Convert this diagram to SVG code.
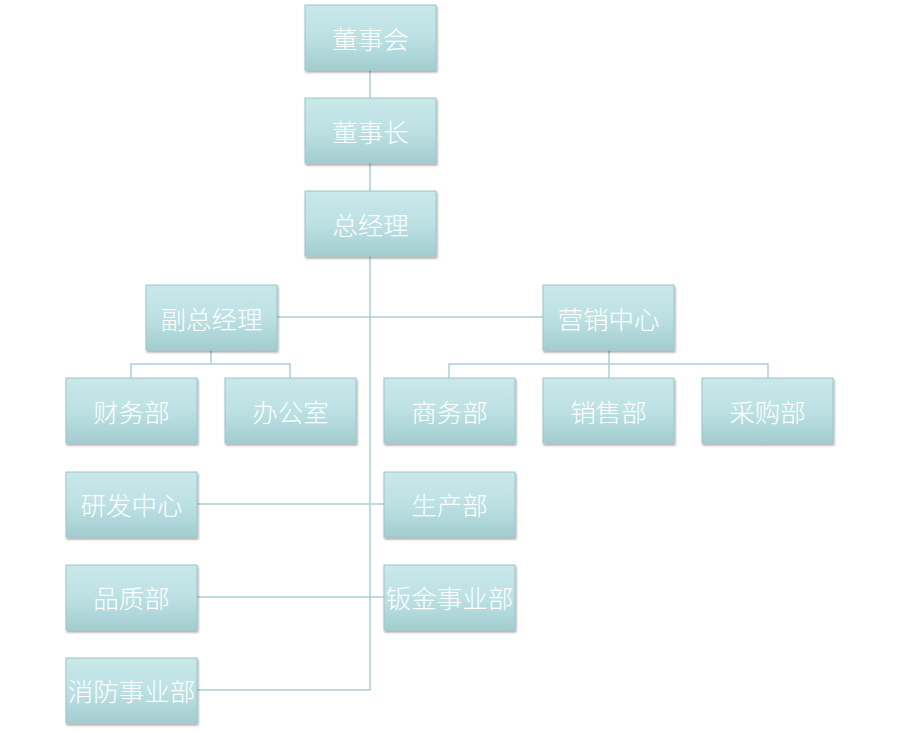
<svg xmlns="http://www.w3.org/2000/svg" width="900" height="733" viewBox="0 0 900 733">
<defs>
<linearGradient id="g" x1="0" y1="0" x2="0" y2="1">
<stop offset="0" stop-color="#c9e8ea"/>
<stop offset="0.5" stop-color="#bde1e3"/>
<stop offset="1" stop-color="#a3cdd1"/>
</linearGradient>
<filter id="sh" x="-10%" y="-10%" width="125%" height="130%">
<feGaussianBlur in="SourceAlpha" stdDeviation="1.2"/>
<feOffset dx="1" dy="2" result="b"/>
<feComponentTransfer><feFuncA type="linear" slope="0.35"/></feComponentTransfer>
<feMerge><feMergeNode/><feMergeNode in="SourceGraphic"/></feMerge>
</filter>
</defs>
<style>
.box{fill:url(#g);stroke:#9cc6ca;stroke-width:1;filter:url(#sh)}
.t{font-family:"Noto Sans CJK SC","Noto Sans CJK JP",sans-serif;font-size:25.5px;fill:#ffffff;text-anchor:middle;dominant-baseline:central;font-weight:300}
.c{fill:none;stroke:#a9d1d5;stroke-width:1.5}
</style>
<rect width="900" height="733" fill="#ffffff"/>
<g id="connectors">
<path class="c" d="M370 70V98M370 163V191M370 256V690H197"/>
<path class="c" d="M277 317H543"/>
<path class="c" d="M211 350V364M131 378V364H290V378"/>
<path class="c" d="M609 350V378M449 378V364H768V378"/>
<path class="c" d="M197 504H384"/>
<path class="c" d="M197 597H384"/>
</g>
<g id="n1"><rect class="box" x="305" y="5" width="131" height="65"/><text class="t" x="370.5" y="37">董事会</text></g>
<g id="n2"><rect class="box" x="305" y="98" width="131" height="65"/><text class="t" x="370.5" y="130">董事长</text></g>
<g id="n3"><rect class="box" x="305" y="191" width="131" height="65"/><text class="t" x="370.5" y="223">总经理</text></g>
<g id="n4"><rect class="box" x="146" y="285" width="131" height="65"/><text class="t" x="211.5" y="317">副总经理</text></g>
<g id="n5"><rect class="box" x="543" y="285" width="131" height="65"/><text class="t" x="608.5" y="317">营销中心</text></g>
<g id="n6"><rect class="box" x="66" y="378" width="131" height="65"/><text class="t" x="131.5" y="410">财务部</text></g>
<g id="n7"><rect class="box" x="225" y="378" width="131" height="65"/><text class="t" x="290.5" y="410">办公室</text></g>
<g id="n8"><rect class="box" x="384" y="378" width="131" height="65"/><text class="t" x="449.5" y="410">商务部</text></g>
<g id="n9"><rect class="box" x="543" y="378" width="131" height="65"/><text class="t" x="608.5" y="410">销售部</text></g>
<g id="n10"><rect class="box" x="702" y="378" width="131" height="65"/><text class="t" x="767.5" y="410">采购部</text></g>
<g id="n11"><rect class="box" x="66" y="472" width="131" height="65"/><text class="t" x="131.5" y="503">研发中心</text></g>
<g id="n12"><rect class="box" x="384" y="472" width="131" height="65"/><text class="t" x="449.5" y="503">生产部</text></g>
<g id="n13"><rect class="box" x="66" y="565" width="131" height="65"/><text class="t" x="131.5" y="596">品质部</text></g>
<g id="n14"><rect class="box" x="384" y="565" width="131" height="65"/><text class="t" x="449.5" y="596">钣金事业部</text></g>
<g id="n15"><rect class="box" x="66" y="658" width="131" height="65"/><text class="t" x="131.5" y="689">消防事业部</text></g>
</svg>
